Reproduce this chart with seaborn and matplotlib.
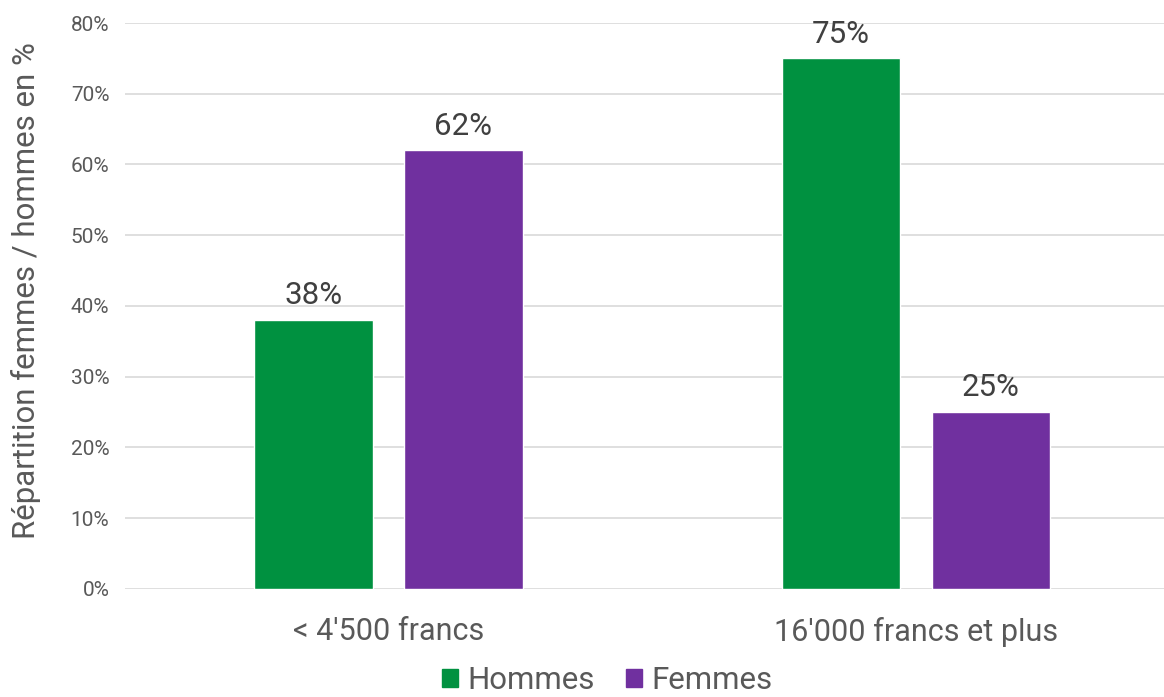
import pandas as pd
import seaborn as sns
import matplotlib.pyplot as plt
from matplotlib.ticker import PercentFormatter

categories = ["< 4'500 francs", "16'000 francs et plus"]
hommes = [38, 75]
femmes = [62, 25]
series = ["Hommes", "Femmes"]
colors = ["#009140", "#70309F"]

df = pd.DataFrame({
    "cat": categories * 2,
    "sexe": [series[0]] * 2 + [series[1]] * 2,
    "val": hommes + femmes,
})

sns.set_theme(style="white")
plt.rcParams['font.family'] = ['Roboto', 'DejaVu Sans']

fig = plt.figure(figsize=(11.64, 6.97), dpi=100)
ax = fig.add_axes([0.107, 0.155, 0.893, 0.812])

sns.barplot(data=df, x="cat", y="val", hue="sexe", hue_order=series,
            palette=colors, width=0.568, gap=0.207, saturation=1,
            ax=ax, legend=False)

for c in ax.containers:
    ax.bar_label(c, labels=[f"{v:.0f}%" for v in c.datavalues], padding=7,
                 fontsize=22.5, color="#404040")

ax.set_ylim(0, 80)
ax.set_xlim(-0.5, 1.47)
ax.set_yticks(range(0, 81, 10))
ax.yaxis.set_major_formatter(PercentFormatter(decimals=0))
ax.grid(axis="y", color="#d9d9d9", linewidth=1.2)
ax.set_axisbelow(True)
for s in ax.spines.values():
    s.set_visible(False)
ax.tick_params(axis="y", labelsize=15, labelcolor="#595959", pad=11, length=0)
ax.tick_params(axis="x", labelsize=22, labelcolor="#595959", pad=20, length=0)
ax.set_xlabel("")
ax.set_ylabel("Répartition femmes / hommes en %", fontsize=22.5, color="#595959")
ax.yaxis.set_label_coords(-0.08, 0.528)

handles = [plt.Rectangle((0, 0), 1, 1, color=c) for c in colors]
fig.legend(handles, series, loc="lower center", ncol=2, frameon=False,
           bbox_to_anchor=(0.5215, -0.038), fontsize=22.5, handlelength=0.52,
           handleheight=0.52, handletextpad=0.3, columnspacing=1.0,
           labelcolor="#595959")

fig.savefig("out.png", dpi=100)
